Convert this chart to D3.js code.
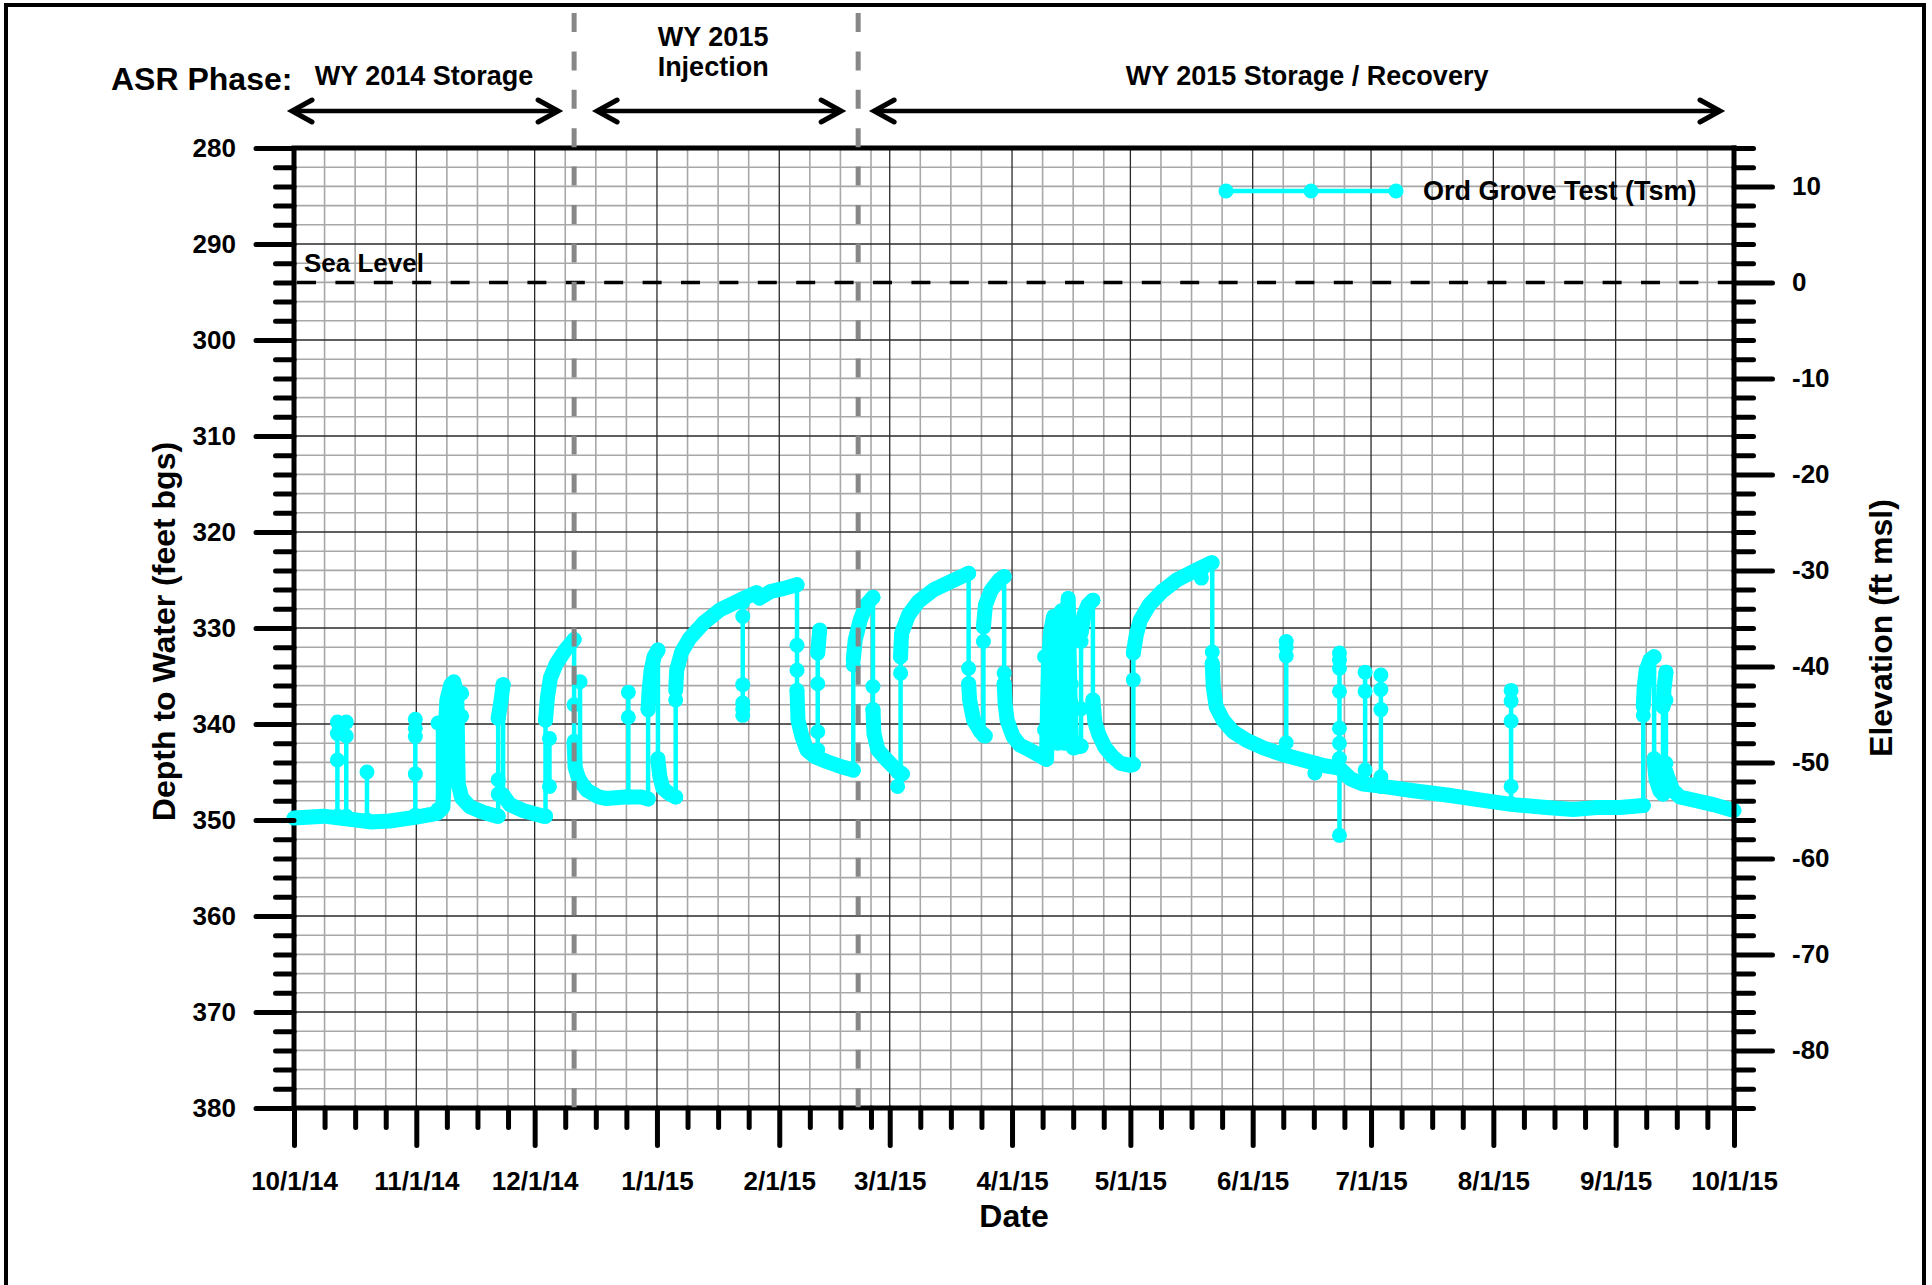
<!DOCTYPE html>
<html lang="en">
<head>
<meta charset="utf-8">
<title>Ord Grove Test (Tsm) - Depth to Water, WY 2015</title>
<script src="https://cdn.jsdelivr.net/npm/d3@7/dist/d3.min.js"></script>
<style>
  html, body { margin: 0; padding: 0; background: #fff; }
  svg { display: block; }
  text { font-family: "Liberation Sans", Arial, Helvetica, sans-serif; font-weight: bold; fill: #000; }
</style>
</head>
<body>
<svg id="chart" width="1932" height="1285"></svg>
<script>
// ---------------- data ----------------
const seriesName = "Ord Grove Test (Tsm)";
const depthTicks = [280, 290, 300, 310, 320, 330, 340, 350, 360, 370, 380];      // ft bgs
const elevationTicks = [10, 0, -10, -20, -30, -40, -50, -60, -70, -80];           // ft msl
const dateTickLabels = ["10/1/14", "11/1/14", "12/1/14", "1/1/15", "2/1/15", "3/1/15", "4/1/15",
                        "5/1/15", "6/1/15", "7/1/15", "8/1/15", "9/1/15", "10/1/15"];
const seaLevelDepth = 294;                                                          // depth where elevation = 0
const phaseLabels = [["WY 2014 Storage"], ["WY 2015", "Injection"], ["WY 2015 Storage / Recovery"]];
const phaseBounds = ["2014-10-01", "2014-12-11", "2015-02-21", "2015-10-01"];

// Continuous logger record [date, depth to water ft bgs]; a new run starts after each abrupt jump
const recordRuns = [
  [ // storage baseline and early-November pumping cluster
    ["2014-10-01 00:00", 349.8], ["2014-10-08 12:00", 349.6], ["2014-10-16 18:00", 350.0],
    ["2014-10-20 06:00", 350.2], ["2014-10-25 06:00", 350.1], ["2014-11-01 00:00", 349.7],
    ["2014-11-06 06:00", 349.3], ["2014-11-07 18:00", 348.7], ["2014-11-08 00:00", 346.5],
    ["2014-11-08 06:00", 341.3], ["2014-11-08 18:00", 337.5], ["2014-11-09 18:00", 335.9],
    ["2014-11-10 12:00", 335.6], ["2014-11-11 06:00", 336.8], ["2014-11-11 09:00", 339.6],
    ["2014-11-11 12:00", 343.0], ["2014-11-11 15:00", 346.2], ["2014-11-12 12:00", 347.7],
    ["2014-11-14 12:00", 348.6], ["2014-11-18 00:00", 349.2], ["2014-11-21 06:00", 349.6],
    ["2014-11-21 18:00", 349.6]
  ],
  [["2014-11-21 18:00", 339.4], ["2014-11-22 12:00", 337.5], ["2014-11-23 00:00", 335.9]],
  [["2014-11-23 00:00", 347.4], ["2014-11-24 18:00", 348.4], ["2014-11-28 00:00", 349.0],
   ["2014-12-03 06:00", 349.6], ["2014-12-03 18:00", 349.6]],
  [["2014-12-03 18:00", 339.6], ["2014-12-04 06:00", 337.2], ["2014-12-05 00:00", 335.2],
   ["2014-12-06 12:00", 333.7], ["2014-12-08 18:00", 332.3], ["2014-12-11 00:00", 331.2]],
  [["2014-12-11 00:00", 342.0], ["2014-12-11 06:00", 344.5], ["2014-12-12 06:00", 345.8],
   ["2014-12-14 06:00", 346.9], ["2014-12-17 06:00", 347.6], ["2014-12-19 00:00", 347.75],
   ["2014-12-24 00:00", 347.6], ["2014-12-28 00:00", 347.6], ["2014-12-29 18:00", 347.8]],
  [["2014-12-29 18:00", 338.5], ["2014-12-30 00:00", 336.5], ["2014-12-30 12:00", 334.5],
   ["2014-12-31 06:00", 333.0], ["2015-01-01 06:00", 332.3]],
  [["2015-01-01 06:00", 343.8], ["2015-01-01 18:00", 345.5], ["2015-01-02 12:00", 346.7],
   ["2015-01-04 06:00", 347.3], ["2015-01-05 18:00", 347.6]],
  [["2015-01-05 18:00", 336.5], ["2015-01-06 00:00", 334.4], ["2015-01-07 06:00", 332.5],
   ["2015-01-09 06:00", 331.1], ["2015-01-12 18:00", 329.5], ["2015-01-17 00:00", 328.1],
   ["2015-01-22 00:00", 327.1], ["2015-01-26 06:00", 326.3], ["2015-01-27 00:00", 326.9],
   ["2015-01-29 18:00", 326.2], ["2015-02-02 00:00", 325.9], ["2015-02-05 12:00", 325.5]],
  [["2015-02-05 12:00", 336.5], ["2015-02-05 18:00", 339.6], ["2015-02-06 18:00", 341.3],
   ["2015-02-08 00:00", 342.7], ["2015-02-10 00:00", 343.4], ["2015-02-13 00:00", 343.9],
   ["2015-02-16 18:00", 344.45], ["2015-02-19 18:00", 344.8]],
  [["2015-02-10 18:00", 332.6], ["2015-02-11 06:00", 330.2]],
  [["2015-02-19 18:00", 333.3], ["2015-02-20 06:00", 331.25], ["2015-02-21 12:00", 329.2],
   ["2015-02-23 00:00", 327.6], ["2015-02-24 18:00", 326.8]],
  [["2015-02-24 18:00", 338.5], ["2015-02-25 00:00", 341.0], ["2015-02-26 00:00", 342.7],
   ["2015-02-28 06:00", 343.75], ["2015-03-02 18:00", 344.8], ["2015-03-04 06:00", 345.2]],
  [["2015-03-03 18:00", 333.0], ["2015-03-04 00:00", 330.55], ["2015-03-05 18:00", 328.65],
   ["2015-03-08 06:00", 327.25], ["2015-03-12 00:00", 326.05], ["2015-03-16 06:00", 325.2],
   ["2015-03-21 00:00", 324.3]],
  [["2015-03-21 00:00", 335.8], ["2015-03-21 06:00", 337.5], ["2015-03-22 06:00", 339.6],
   ["2015-03-24 00:00", 340.8], ["2015-03-25 06:00", 341.25]],
  [["2015-03-24 18:00", 329.9], ["2015-03-25 06:00", 327.6], ["2015-03-26 18:00", 326.05],
   ["2015-03-28 18:00", 325.0], ["2015-03-30 00:00", 324.65]],
  [ // decline into the mid-April pumping cluster
    ["2015-03-30 00:00", 335.8], ["2015-03-30 06:00", 337.85], ["2015-03-30 18:00", 339.6],
    ["2015-04-01 06:00", 341.3], ["2015-04-03 00:00", 342.2], ["2015-04-05 12:00", 342.7],
    ["2015-04-09 18:00", 343.7], ["2015-04-10 00:00", 338.0], ["2015-04-10 06:00", 333.5],
    ["2015-04-10 18:00", 330.5], ["2015-04-11 12:00", 328.8], ["2015-04-11 18:00", 334.0],
    ["2015-04-12 00:00", 339.0], ["2015-04-12 12:00", 342.0], ["2015-04-12 18:00", 337.0],
    ["2015-04-13 00:00", 332.0], ["2015-04-13 12:00", 328.2], ["2015-04-13 18:00", 333.0],
    ["2015-04-14 00:00", 339.0], ["2015-04-14 06:00", 342.0], ["2015-04-14 12:00", 336.0],
    ["2015-04-14 18:00", 330.0], ["2015-04-15 06:00", 326.9], ["2015-04-15 12:00", 333.0],
    ["2015-04-15 18:00", 338.0], ["2015-04-16 00:00", 341.2], ["2015-04-16 12:00", 342.5],
    ["2015-04-17 06:00", 342.4], ["2015-04-18 12:00", 342.3]
  ],
  [["2015-04-18 12:00", 330.5], ["2015-04-19 06:00", 328.6], ["2015-04-20 06:00", 327.6],
   ["2015-04-21 12:00", 327.1]],
  [["2015-04-21 12:00", 337.5], ["2015-04-22 00:00", 339.8], ["2015-04-23 00:00", 341.1],
   ["2015-04-24 12:00", 342.4], ["2015-04-26 12:00", 343.4], ["2015-04-28 12:00", 344.1],
   ["2015-05-01 00:00", 344.3], ["2015-05-01 18:00", 344.2]],
  [["2015-05-01 18:00", 332.6], ["2015-05-02 12:00", 330.7], ["2015-05-03 12:00", 329.2],
   ["2015-05-05 18:00", 327.6], ["2015-05-09 00:00", 326.2], ["2015-05-12 18:00", 325.0],
   ["2015-05-17 12:00", 324.0], ["2015-05-21 12:00", 323.2]],
  [ // recovery pumping and summer decline
    ["2015-05-21 18:00", 333.7], ["2015-05-22 00:00", 336.1], ["2015-05-22 18:00", 338.2],
    ["2015-05-24 12:00", 339.6], ["2015-05-27 00:00", 340.8], ["2015-05-30 12:00", 341.7],
    ["2015-06-03 18:00", 342.5], ["2015-06-08 18:00", 343.2], ["2015-06-13 18:00", 343.75],
    ["2015-06-18 18:00", 344.3], ["2015-06-23 00:00", 344.6], ["2015-06-25 18:00", 345.7],
    ["2015-06-29 00:00", 346.25], ["2015-07-04 00:00", 346.5], ["2015-07-11 18:00", 346.95],
    ["2015-07-20 06:00", 347.4], ["2015-07-28 12:00", 347.9], ["2015-08-06 00:00", 348.4],
    ["2015-08-14 12:00", 348.7], ["2015-08-21 06:00", 348.9], ["2015-08-27 06:00", 348.7],
    ["2015-09-02 00:00", 348.7], ["2015-09-08 00:00", 348.5]
  ],
  [["2015-09-08 00:00", 338.2], ["2015-09-08 06:00", 336.1], ["2015-09-08 18:00", 334.4],
   ["2015-09-09 18:00", 333.3], ["2015-09-10 18:00", 333.0]],
  [["2015-09-10 18:00", 343.75], ["2015-09-11 06:00", 345.8], ["2015-09-12 06:00", 347.0],
   ["2015-09-13 00:00", 347.3]],
  [["2015-09-13 00:00", 338.2], ["2015-09-13 06:00", 336.4], ["2015-09-13 18:00", 334.6]],
  [["2015-09-13 18:00", 345.0], ["2015-09-14 06:00", 345.6], ["2015-09-15 12:00", 346.9],
   ["2015-09-17 06:00", 347.6], ["2015-09-21 12:00", 348.0], ["2015-09-25 18:00", 348.4],
   ["2015-10-01 00:00", 349.0]]
];

// Rapid pump on/off transitions: date and the individual readings logged across the jump (ft bgs)
const transitions = [
  ["2014-10-12 00:00", [349.6, 343.75, 341.0, 339.8]],
  ["2014-10-14 06:00", [349.6, 341.25, 339.8]],
  ["2014-10-19 12:00", [350.0, 345.0]],
  ["2014-10-31 18:00", [349.5, 345.2, 341.3, 340.45, 339.5]],
  ["2014-11-06 12:00", [348.9, 339.9]],
  ["2014-11-12 12:00", [336.8, 339.2]],
  ["2014-11-21 18:00", [349.6, 347.3, 345.8, 339.4]],
  ["2014-11-23 00:00", [335.9, 347.4]],
  ["2014-12-03 18:00", [349.6, 339.6]],
  ["2014-12-04 18:00", [341.5, 346.5]],
  ["2014-12-11 00:00", [331.2, 338.0, 341.8, 342.0]],
  ["2014-12-12 12:00", [335.6, 345.9]],
  ["2014-12-24 18:00", [347.6, 339.3, 336.7]],
  ["2014-12-29 18:00", [347.8, 338.5]],
  ["2015-01-01 06:00", [332.3, 343.6]],
  ["2015-01-05 18:00", [347.6, 337.5]],
  ["2015-01-22 18:00", [327.3, 328.8, 335.9, 337.8, 338.5, 339.1]],
  ["2015-02-05 12:00", [325.5, 331.8, 334.4, 336.5]],
  ["2015-02-10 18:00", [343.5, 342.7, 340.8, 335.8, 332.6]],
  ["2015-02-19 18:00", [344.8, 333.85]],
  ["2015-02-24 18:00", [326.8, 336.1, 338.5]],
  ["2015-03-03 00:00", [345.0, 346.5]],
  ["2015-03-03 18:00", [345.2, 334.7, 333.0]],
  ["2015-03-21 00:00", [324.3, 334.2, 335.8]],
  ["2015-03-24 18:00", [341.2, 331.4, 329.9]],
  ["2015-03-30 00:00", [324.65, 334.7, 335.8]],
  ["2015-04-09 06:00", [340.6, 333.0]],
  ["2015-04-16 00:00", [335.8, 337.85]],
  ["2015-04-18 12:00", [342.3, 338.4, 331.4, 330.5]],
  ["2015-04-21 12:00", [327.1, 337.5]],
  ["2015-05-01 18:00", [344.2, 335.4, 332.6]],
  ["2015-05-19 00:00", [324.0, 324.8]],
  ["2015-05-21 18:00", [323.2, 332.5, 333.7]],
  ["2015-06-09 12:00", [343.2, 341.95, 332.9, 332.0, 331.4]],
  ["2015-06-16 18:00", [344.1, 345.1]],
  ["2015-06-23 00:00", [332.6, 333.3, 334.2, 336.6, 340.45, 342.0, 343.6, 351.6]],
  ["2015-06-29 12:00", [334.6, 336.6, 344.8, 346.2]],
  ["2015-07-03 12:00", [334.9, 336.4, 338.5, 345.5, 346.5]],
  ["2015-08-05 12:00", [336.5, 337.6, 339.7, 346.5, 348.3]],
  ["2015-09-08 00:00", [348.5, 339.1]],
  ["2015-09-10 18:00", [333.0, 343.6]],
  ["2015-09-13 00:00", [347.3, 338.2]],
  ["2015-09-13 18:00", [334.6, 337.5, 344.1, 345.0]]
];

// ---------------- layout ----------------
const plot = { left: 294, right: 1734, top: 148, bottom: 1108 };
const CYAN = "#00ffff";
const BAND_WIDTH = 15, MARKER_R = 7.5, THIN = 4.5;

const parseTime = d3.utcParse("%Y-%m-%d %H:%M");
const parseDay = d3.utcParse("%Y-%m-%d");
const parseTick = d3.utcParse("%m/%d/%y");
const tickDates = dateTickLabels.map(parseTick);

const x = d3.scaleUtc()
  .domain([tickDates[0], tickDates[tickDates.length - 1]])
  .range([plot.left, plot.right]);
const y = d3.scaleLinear()
  .domain([depthTicks[0], depthTicks[depthTicks.length - 1]])
  .range([plot.top, plot.bottom]);
const yElev = d3.scaleLinear()
  .domain([seaLevelDepth - depthTicks[0], seaLevelDepth - depthTicks[depthTicks.length - 1]])
  .range([plot.top, plot.bottom]);

// minor tick positions
const depthMinor = d3.range(depthTicks[0], depthTicks[depthTicks.length - 1] + 1, 2).filter(d => d % 10 !== 0);
const elevDom = yElev.domain();
const elevMinor = d3.range(elevDom[1], elevDom[0] + 1, 2).filter(d => d % 10 !== 0);
const dateMinor = [];
tickDates.slice(0, -1).forEach((m, i) => {
  for (let k = 1; k <= 3; k++) {
    const t = new Date(+m + k * 7.75 * 864e5);
    if (t < tickDates[i + 1]) dateMinor.push(t);
  }
});

const svg = d3.select("#chart");

// outer frame
svg.append("rect")
  .attr("x", 6).attr("y", 5).attr("width", 1918).attr("height", 1330)
  .attr("fill", "none").attr("stroke", "#000").attr("stroke-width", 4);

// ---------------- grid ----------------
const grid = svg.append("g");
grid.selectAll("line.hmin").data(depthMinor).join("line")
  .attr("x1", plot.left).attr("x2", plot.right)
  .attr("y1", d => y(d)).attr("y2", d => y(d))
  .attr("stroke", "#a8a8a8").attr("stroke-width", 1.6);
grid.selectAll("line.vmin").data(dateMinor).join("line")
  .attr("y1", plot.top).attr("y2", plot.bottom)
  .attr("x1", d => x(d)).attr("x2", d => x(d))
  .attr("stroke", "#a8a8a8").attr("stroke-width", 1.6);
grid.selectAll("line.hmaj").data(depthTicks.slice(1, -1)).join("line")
  .attr("x1", plot.left).attr("x2", plot.right)
  .attr("y1", d => y(d)).attr("y2", d => y(d))
  .attr("stroke", "#2a2a2a").attr("stroke-width", 1.3);
grid.selectAll("line.vmaj").data(tickDates.slice(1, -1)).join("line")
  .attr("y1", plot.top).attr("y2", plot.bottom)
  .attr("x1", d => x(d)).attr("x2", d => x(d))
  .attr("stroke", "#2a2a2a").attr("stroke-width", 1.3);

// sea level reference
svg.append("line")
  .attr("x1", plot.left + 3).attr("x2", plot.right)
  .attr("y1", y(seaLevelDepth)).attr("y2", y(seaLevelDepth))
  .attr("stroke", "#000").attr("stroke-width", 3.5)
  .attr("stroke-dasharray", "19 19.4");
svg.append("text")
  .attr("x", plot.left + 10).attr("y", y(seaLevelDepth) - 10.5)
  .attr("font-size", 26).text("Sea Level");

// plot frame (left, top, bottom sides)
svg.append("path")
  .attr("d", `M${plot.right},${plot.top}H${plot.left}V${plot.bottom}H${plot.right}`)
  .attr("fill", "none").attr("stroke", "#000").attr("stroke-width", 5)
  .attr("stroke-linecap", "square");

// ---------------- series ----------------
const series = svg.append("g");
const tx = s => x(parseTime(s));

series.selectAll("line.jump").data(transitions).join("line")
  .attr("x1", d => tx(d[0])).attr("x2", d => tx(d[0]))
  .attr("y1", d => y(d3.min(d[1]))).attr("y2", d => y(d3.max(d[1])))
  .attr("stroke", CYAN).attr("stroke-width", THIN);

const bandLine = d3.line().x(d => tx(d[0])).y(d => y(d[1]));
series.selectAll("path.run").data(recordRuns).join("path")
  .attr("d", bandLine)
  .attr("fill", "none").attr("stroke", CYAN).attr("stroke-width", BAND_WIDTH)
  .attr("stroke-linecap", "round").attr("stroke-linejoin", "round");

const readings = transitions.flatMap(([t, ds]) => ds.map(dv => [t, dv]));
series.selectAll("circle.reading").data(readings).join("circle")
  .attr("cx", d => tx(d[0])).attr("cy", d => y(d[1])).attr("r", MARKER_R)
  .attr("fill", CYAN);

// right plot side drawn over the record
svg.append("line")
  .attr("x1", plot.right).attr("x2", plot.right)
  .attr("y1", plot.top - 2.5).attr("y2", plot.bottom + 2.5)
  .attr("stroke", "#000").attr("stroke-width", 5);

// ASR phase boundaries
const boundaryDates = phaseBounds.slice(1, -1).map(parseDay);
svg.selectAll("line.phase").data(boundaryDates).join("line")
  .attr("x1", d => x(d)).attr("x2", d => x(d))
  .attr("y1", 13).attr("y2", plot.bottom)
  .attr("stroke", "#878787").attr("stroke-width", 5)
  .attr("stroke-dasharray", "19 19.4");

// ---------------- axes ----------------
function styleAxis(g, labelSize) {
  g.select(".domain").remove();
  g.attr("font-family", null).attr("font-size", labelSize);
  g.selectAll(".tick line").attr("stroke", "#000").attr("stroke-width", 5).attr("stroke-linecap", "round");
  g.selectAll(".tick text").attr("fill", "#000");
}

svg.append("g").attr("transform", `translate(${plot.left},0)`)
  .call(d3.axisLeft(y).tickValues(depthMinor).tickSize(18.5).tickFormat(""))
  .call(g => styleAxis(g, 26));
svg.append("g").attr("transform", `translate(${plot.left},0)`)
  .call(d3.axisLeft(y).tickValues(depthTicks).tickSize(38).tickPadding(20).tickFormat(d3.format("d")))
  .call(g => styleAxis(g, 26));

svg.append("g").attr("transform", `translate(${plot.right},0)`)
  .call(d3.axisRight(yElev).tickValues(elevMinor).tickSize(19.5).tickFormat(""))
  .call(g => styleAxis(g, 26));
svg.append("g").attr("transform", `translate(${plot.right},0)`)
  .call(d3.axisRight(yElev).tickValues(elevationTicks).tickSize(38.5).tickPadding(19.5)
        .tickFormat(d => d < 0 ? "-" + Math.abs(d) : String(d)))
  .call(g => styleAxis(g, 26));

svg.append("g").attr("transform", `translate(0,${plot.bottom})`)
  .call(d3.axisBottom(x).tickValues(dateMinor).tickSize(19.5).tickFormat(""))
  .call(g => styleAxis(g, 26));
svg.append("g").attr("transform", `translate(0,${plot.bottom})`)
  .call(d3.axisBottom(x).tickValues(tickDates).tickSize(37.5).tickPadding(26)
        .tickFormat((d, i) => dateTickLabels[i]))
  .call(g => styleAxis(g, 26));

// axis titles
svg.append("text")
  .attr("x", (plot.left + plot.right) / 2).attr("y", 1227)
  .attr("text-anchor", "middle").attr("font-size", 32).text("Date");
svg.append("text")
  .attr("transform", `translate(175,${(plot.top + plot.bottom) / 2 + 3.5}) rotate(-90)`)
  .attr("text-anchor", "middle").attr("font-size", 32).text("Depth to Water (feet bgs)");
svg.append("text")
  .attr("transform", `translate(1892,${(plot.top + plot.bottom) / 2}) rotate(-90)`)
  .attr("text-anchor", "middle").attr("font-size", 32).text("Elevation (ft msl)");

// ---------------- ASR phase header ----------------
svg.append("text").attr("x", 111).attr("y", 90).attr("font-size", 32).text("ASR Phase:");

const arrowY = 111;
const arrowInsets = [[-2, 16], [23, 17], [16, 14]];
const labelShift = [-1, -6, 10];
const phaseDates = phaseBounds.map(parseDay);
phaseLabels.forEach((lines, i) => {
  const x1 = x(phaseDates[i]) + arrowInsets[i][0];
  const x2 = x(phaseDates[i + 1]) - arrowInsets[i][1];
  const g = svg.append("g");
  g.append("line").attr("x1", x1).attr("x2", x2).attr("y1", arrowY).attr("y2", arrowY)
    .attr("stroke", "#000").attr("stroke-width", 4.5);
  g.append("path")
    .attr("d", `M${x1 + 20},${arrowY - 11}L${x1},${arrowY}L${x1 + 20},${arrowY + 11}` +
               `M${x2 - 20},${arrowY - 11}L${x2},${arrowY}L${x2 - 20},${arrowY + 11}`)
    .attr("fill", "none").attr("stroke", "#000").attr("stroke-width", 5)
    .attr("stroke-linecap", "round").attr("stroke-linejoin", "miter");
  const cx = (x1 + x2) / 2 + labelShift[i];
  const baselines = lines.length === 1 ? [85] : [46, 76];
  lines.forEach((t, j) => {
    g.append("text").attr("x", cx).attr("y", baselines[j])
      .attr("text-anchor", "middle").attr("font-size", 27).text(t);
  });
});

// ---------------- legend ----------------
const legendY = 191;
const legendXs = [1226, 1311, 1396];
svg.append("line")
  .attr("x1", legendXs[0]).attr("x2", legendXs[2]).attr("y1", legendY).attr("y2", legendY)
  .attr("stroke", CYAN).attr("stroke-width", THIN);
svg.selectAll("circle.legend").data(legendXs).join("circle")
  .attr("cx", d => d).attr("cy", legendY).attr("r", MARKER_R).attr("fill", CYAN);
svg.append("text").attr("x", 1423).attr("y", legendY + 9)
  .attr("font-size", 27).text(seriesName);
</script>
</body>
</html>
